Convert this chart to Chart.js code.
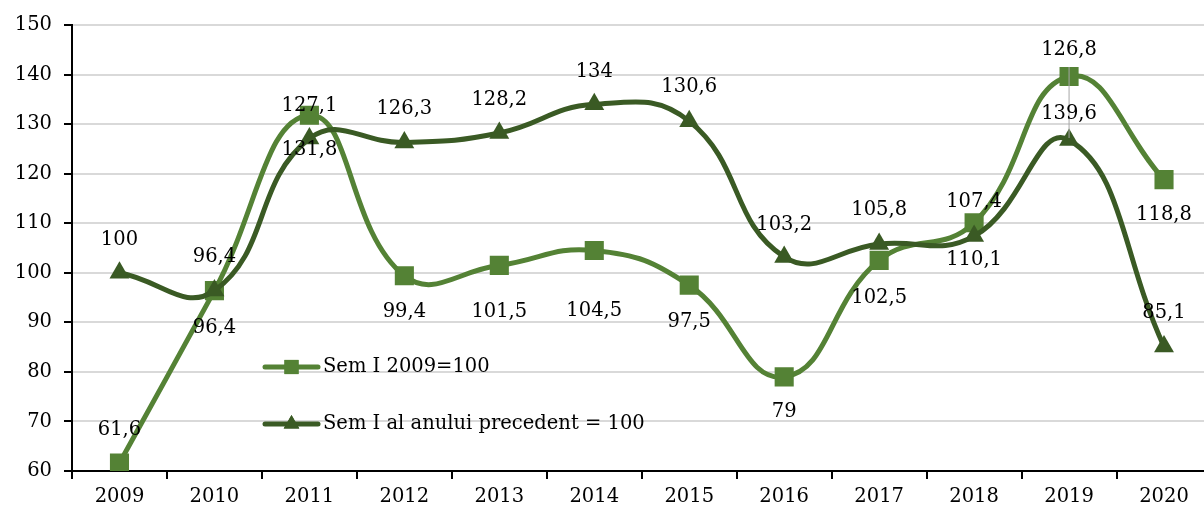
<!DOCTYPE html>
<html>
<head>
<meta charset="utf-8">
<script src="https://cdn.jsdelivr.net/npm/chart.js@4.4.0/dist/chart.umd.min.js"></script>
<style>
	html, body { margin: 0; padding: 0; background: #fff; overflow: hidden; }
	#wrap { width: 1225px; height: 513px; }
</style>
</head>
<body>
<div id="wrap"><canvas id="chart-sem" width="1225" height="513" style="width:1225px;height:513px"></canvas></div>
<script>
	// Data
	const years = ['2009', '2010', '2011', '2012', '2013', '2014', '2015', '2016', '2017', '2018', '2019', '2020'];
	const sem2009 = [61.6, 96.4, 131.8, 99.4, 101.5, 104.5, 97.5, 79, 102.5, 110.1, 139.6, 118.8];
	const semPrecedent = [100, 96.4, 127.1, 126.3, 128.2, 134, 130.6, 103.2, 105.8, 107.4, 126.8, 85.1];
	const seriesNames = ['Sem I 2009=100', 'Sem I al anului precedent = 100'];

	const colorLight = '#548235';
	const colorDark = '#3a5a24';
	const fontFamily = "'DejaVu Serif', 'Liberation Serif', serif";
	const fontSize = 19.5;

	// label placement (px from point, vertical)
	const offLight = [-33, 37, 35, 36, 47, 60, 37, 35, 38, 37, 37, 35];
	const offDark = [-33, -34, -33, -34, -33, -32, -34, -32, -34, -34, -90, -34];

	Chart.defaults.font.family = fontFamily;
	Chart.defaults.font.size = fontSize;
	Chart.defaults.color = '#000';

	function fmt(v) {
		return String(v).replace('.', ',');
	}

	const labelPlugin = {
		id: 'labelPlugin',
		afterDatasetsDraw: function(chart) {
			const ctx = chart.ctx;
			ctx.save();
			// leader line 2019
			const metaDark = chart.getDatasetMeta(1);
			const p = metaDark.data[10];
			ctx.strokeStyle = '#a6a6a6';
			ctx.lineWidth = 1;
			ctx.beginPath();
			ctx.moveTo(p.x, p.y + offDark[10] + 17);
			ctx.lineTo(p.x, p.y - 2);
			ctx.stroke();

			ctx.font = fontSize + 'px ' + fontFamily;
			ctx.fillStyle = '#000';
			ctx.textAlign = 'center';
			ctx.textBaseline = 'middle';
			[[0, offLight], [1, offDark]].forEach(function(item) {
				const meta = chart.getDatasetMeta(item[0]);
				const vals = chart.data.datasets[item[0]].data;
				meta.data.forEach(function(pt, i) {
					ctx.fillText(fmt(vals[i]), pt.x, pt.y + item[1][i]);
				});
			});

			// legend inside plot
			const legend = [
				{ text: seriesNames[0], color: colorLight, style: 'rect', y: 367 },
				{ text: seriesNames[1], color: colorDark, style: 'triangle', y: 424 }
			];
			legend.forEach(function(l) {
				ctx.strokeStyle = l.color;
				ctx.lineWidth = 5;
				ctx.lineCap = 'round';
				ctx.beginPath();
				ctx.moveTo(265, l.y);
				ctx.lineTo(318, l.y);
				ctx.stroke();
				ctx.fillStyle = l.color;
				Chart.helpers.drawPoint(ctx, { pointStyle: l.style, radius: l.style === 'rect' ? 10 : 9, rotation: 0, borderWidth: 0 }, 291.5, l.y);
				ctx.fill();
				ctx.fillStyle = '#000';
				ctx.textAlign = 'left';
				ctx.fillText(l.text, 323, l.y);
			});
			ctx.restore();
		}
	};

	const config = {
		type: 'line',
		data: {
			labels: years,
			datasets: [{
				label: seriesNames[0],
				data: sem2009,
				borderColor: colorLight,
				backgroundColor: colorLight,
				borderWidth: 5,
				pointStyle: 'rect',
				pointRadius: 13.5,
				pointBorderWidth: 0,
				tension: 0.45,
				borderCapStyle: 'round',
				borderJoinStyle: 'round',
				order: 1
			}, {
				label: seriesNames[1],
				data: semPrecedent,
				borderColor: colorDark,
				backgroundColor: colorDark,
				borderWidth: 5,
				pointStyle: 'triangle',
				pointRadius: 11.5,
				pointBorderWidth: 0,
				tension: 0.45,
				borderCapStyle: 'round',
				borderJoinStyle: 'round',
				order: 0
			}]
		},
		options: {
			responsive: false,
			animation: false,
			layout: { padding: { top: 25, left: 0, right: 0, bottom: 0 } },
			plugins: {
				legend: { display: false },
				tooltip: { enabled: false }
			},
			scales: {
				x: {
					offset: true,
					grid: {
						offset: true,
						drawOnChartArea: false,
						drawTicks: true,
						tickLength: 8,
						color: '#000',
						lineWidth: 2
					},
					border: { color: '#000', width: 2 },
					ticks: { padding: 6, maxRotation: 0, autoSkip: false },
					afterFit: function(scale) {
						scale.height = 42;
					}
				},
				y: {
					min: 60,
					max: 150,
					ticks: { stepSize: 10, padding: 12 },
					grid: {
						color: '#d9d9d9',
						lineWidth: 2,
						tickColor: '#000',
						tickLength: 8
					},
					border: { color: '#000', width: 2 },
					afterFit: function(scale) { scale.width = 72; }
				}
			}
		},
		plugins: [labelPlugin]
	};

	var ctx = document.getElementById('chart-sem').getContext('2d');
	var chartSem = new Chart(ctx, config);
</script>
</body>
</html>
